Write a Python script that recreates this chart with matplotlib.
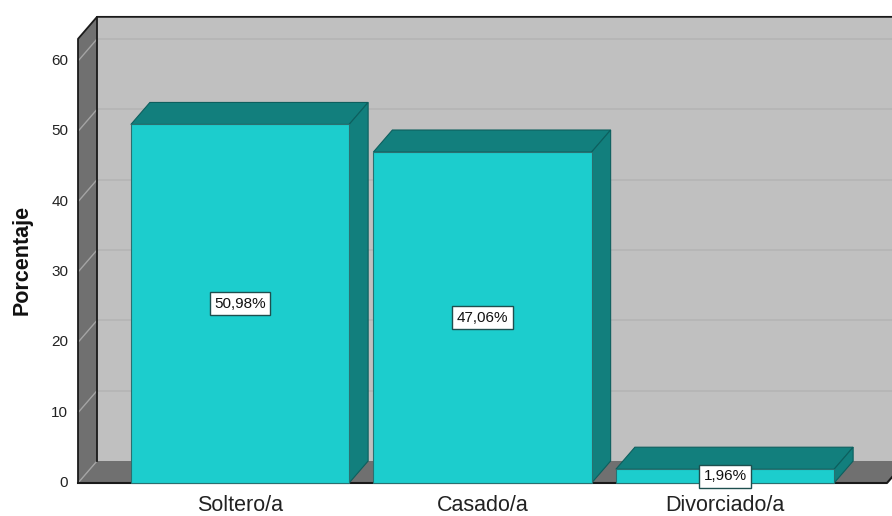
import matplotlib.pyplot as plt
from matplotlib.patches import Polygon

# Estado civil (porcentaje)
categorias = ["Soltero/a", "Casado/a", "Divorciado/a"]
porcentajes = [50.98, 47.06, 1.96]
etiquetas = ["50,98%", "47,06%", "1,96%"]
ticks_y = [0, 10, 20, 30, 40, 50, 60]

plt.rcParams['font.family'] = ['Liberation Sans', 'DejaVu Sans']

# 3D look: depth offset (in category / value units) and box limits
ddx, ddy = 0.0784, 3.13
xl, xr = -0.668, 2.668
ytop = 63.15
ancho = 0.9

c_front = "#1ccdcd"
c_dark = "#127f7d"
c_wall = "#707070"
c_back = "#c0c0c0"

fig = plt.figure(figsize=(8.92, 5.16), dpi=100)
ax = fig.add_axes([0, 0, 1, 1])
ax.set_xlim(-240 / 242.5, (892 - 240) / 242.5)
ax.set_ylim((483 - 516) / 7.033, 483 / 7.033)
ax.axis('off')


def poly(pts, fc, ec="none", lw=0.0, z=1):
    ax.add_patch(Polygon(pts, closed=True, facecolor=fc, edgecolor=ec,
                         linewidth=lw, zorder=z, clip_on=False))


# back wall
poly([(xl + ddx, ddy), (xr + ddx, ddy), (xr + ddx, ytop + ddy),
      (xl + ddx, ytop + ddy)], c_back, z=1)
# floor
poly([(xl, 0), (xr, 0), (xr + ddx, ddy), (xl + ddx, ddy)], c_wall, z=2)
# left wall
poly([(xl, 0), (xl + ddx, ddy), (xl + ddx, ytop + ddy), (xl, ytop)],
     c_wall, z=2)

# gridlines on back wall and left wall
for t in ticks_y:
    if t > 0:
        ax.plot([xl + ddx, xr + ddx], [t + ddy, t + ddy], color="#b5b5b5",
                lw=1.2, zorder=1.5, clip_on=False)
    ax.plot([xl, xl + ddx], [t, t + ddy], color="#a4a4a4", lw=1.0,
            zorder=3, clip_on=False)
    ax.text(xl - 0.04, t, str(t), ha='right', va='center', fontsize=11,
            color="#222222")

# frame edges
ax.plot([xl, xl, xl + ddx, xr + ddx + 0.2], [0, ytop, ytop + ddy, ytop + ddy],
        color="#1a1a1a", lw=1.3, zorder=4, clip_on=False)
ax.plot([xl + ddx, xl + ddx], [ddy, ytop + ddy], color="#1a1a1a", lw=1.3,
        zorder=4, clip_on=False)
ax.plot([xl, xr, xr + ddx], [0, 0, ddy], color="#1a1a1a", lw=1.5,
        zorder=4, clip_on=False)

# bars
for i, (v, lab) in enumerate(zip(porcentajes, etiquetas)):
    x0, x1 = i - ancho / 2, i + ancho / 2
    poly([(x0, v), (x1, v), (x1 + ddx, v + ddy), (x0 + ddx, v + ddy)],
         c_dark, ec="#0d5f5e", lw=0.8, z=5)
    poly([(x1, 0), (x1 + ddx, ddy), (x1 + ddx, v + ddy), (x1, v)],
         c_dark, ec="#0d5f5e", lw=0.8, z=5)
    poly([(x0, 0), (x1, 0), (x1, v), (x0, v)], c_front, ec="#2a7070",
         lw=0.8, z=6)
    ax.text(i, v / 2, lab, ha='center', va='center', fontsize=11,
            color="#111111", zorder=8,
            bbox=dict(boxstyle='square,pad=0.3', facecolor='white',
                      edgecolor='#1e4f4f', linewidth=1.0))
    ax.text(i, -3.2, categorias[i], ha='center', va='center', fontsize=15.5,
            color="#222222")

ax.text(-0.9, 31.7, "Porcentaje", rotation=90, ha='center', va='center',
        fontsize=15.5, fontweight='bold', color="#111111")

fig.savefig("out.png", dpi=100)
